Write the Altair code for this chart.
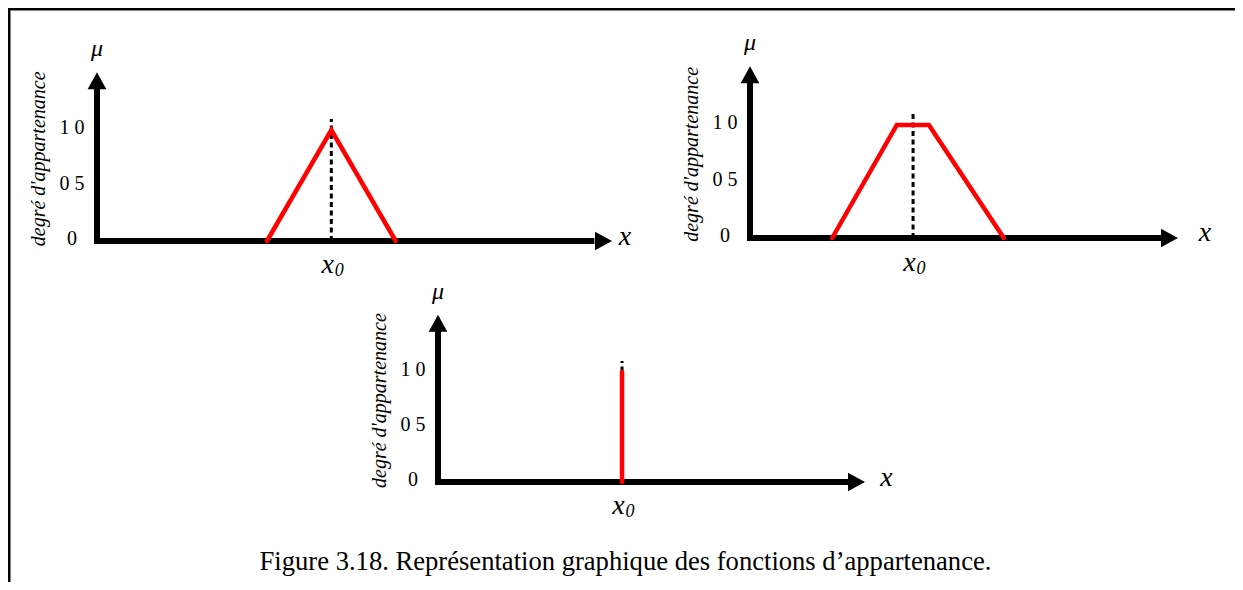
import altair as alt
import pandas as pd

# ---------------- data ----------------
# Panel 1 : triangular membership function
tri_x = [3.3, 4.55, 5.8]
tri_mu = [0.0, 1.0, 0.0]
tri_x0 = 4.55
# Panel 2 : trapezoidal membership function
trap_x = [1.92, 3.43, 4.18, 5.93]
trap_mu = [0.0, 1.0, 1.0, 0.0]
trap_x0 = 3.81
# Panel 3 : singleton
sing_x = [4.31, 4.31]
sing_mu = [0.0, 1.0]
sing_x0 = 4.31

tick_values = [0.0, 0.5, 1.0]
tick_labels = ["0", "0 5", "1 0"]
axis_len = 10.0        # length of the x axis (units)
mu_top = 1.52          # tip of the μ arrow
dash_top = 1.1         # top of the dotted line at x0
y_title = "degré d'appartenance"
caption = "Figure 3.18. Représentation graphique des fonctions d’appartenance."

# ---------------- layout ----------------
W, H = 1227, 574
FONT = "Liberation Serif"
# origin of each panel on the page, pixels per x unit / per μ unit, x-label position
layouts = [
    dict(ox=97, oy=241, ux=51.5, uy=111, xlab=10.25),
    dict(ox=750, oy=238, ux=42.8, uy=113, xlab=10.63),
    dict(ox=438, oy=482, ux=42.7, uy=110, xlab=10.5),
]

ARROW_UP = "M0,0 L0.55,1 L-0.55,1 Z"
ARROW_RIGHT = "M0,0 L-1,-0.55 L-1,0.55 Z"


def scales(L):
    px0 = L["ox"] - 8
    py0 = L["oy"] - 8
    xs = alt.Scale(domain=[-px0 / L["ux"], (W - px0) / L["ux"]], nice=False, zero=False)
    e0 = -(H - py0) / L["uy"]
    ys = alt.Scale(domain=[e0, e0 + H / L["uy"]], nice=False, zero=False)
    return xs, ys


def txt(**kw):
    base = dict(font=FONT, align="center", baseline="middle", color="black")
    base.update(kw)
    return base


def panel(mx, mmu, x0, L):
    xs, ys = scales(L)

    def X(f="x"):
        return alt.X(f"{f}:Q", scale=xs, axis=None)

    def Y(f="y"):
        return alt.Y(f"{f}:Q", scale=ys, axis=None)

    axes_df = pd.DataFrame({"x": [0.0, 0.0], "y": [0.0, 0.0],
                            "x2": [axis_len - 0.4, 0.0], "y2": [0.0, mu_top - 0.12]})
    axes = alt.Chart(axes_df).mark_rule(color="black", strokeWidth=6, strokeCap="square").encode(
        x=X(), y=Y(), x2="x2:Q", y2="y2:Q")

    up = alt.Chart(pd.DataFrame({"x": [0.0], "y": [mu_top]})).mark_point(
        shape=ARROW_UP, size=1156, filled=True, color="black", opacity=1, strokeWidth=0
    ).encode(x=X(), y=Y())
    right = alt.Chart(pd.DataFrame({"x": [axis_len], "y": [0.0]})).mark_point(
        shape=ARROW_RIGHT, size=1156, filled=True, color="black", opacity=1, strokeWidth=0
    ).encode(x=X(), y=Y())

    dash = alt.Chart(pd.DataFrame({"x": [x0], "y": [0.0], "y2": [dash_top]})).mark_rule(
        color="black", strokeWidth=3, strokeDash=[5, 3.5]
    ).encode(x=X(), y=Y(), y2="y2:Q")

    mf = alt.Chart(pd.DataFrame({"x": mx, "y": mmu, "i": list(range(len(mx)))})).mark_line(
        color="#ff0000", strokeWidth=4.5, strokeCap="round", strokeJoin="miter"
    ).encode(x=X(), y=Y(), order="i:Q")

    ticks = alt.Chart(pd.DataFrame({"x": [0.0] * 3, "y": tick_values, "t": tick_labels})).mark_text(
        **txt(fontSize=20, dx=-25, dy=-2)
    ).encode(x=X(), y=Y(), text="t:N")

    mu = alt.Chart(pd.DataFrame({"x": [0.0], "y": [1.73], "t": ["μ"]})).mark_text(
        **txt(fontSize=24, fontStyle="italic")
    ).encode(x=X(), y=Y(), text="t:N")

    ytl = alt.Chart(pd.DataFrame({"x": [0.0], "y": [0.74], "t": [y_title]})).mark_text(
        **txt(fontSize=20, fontStyle="italic", angle=270, dy=-58)
    ).encode(x=X(), y=Y(), text="t:N")

    xl = alt.Chart(pd.DataFrame({"x": [L["xlab"]], "y": [0.04], "t": ["x"]})).mark_text(
        **txt(fontSize=28, fontStyle="italic")
    ).encode(x=X(), y=Y(), text="t:N")

    x0a = alt.Chart(pd.DataFrame({"x": [x0], "y": [-0.22], "t": ["x"]})).mark_text(
        **txt(fontSize=28, fontStyle="italic", dx=-3.5)
    ).encode(x=X(), y=Y(), text="t:N")
    x0b = alt.Chart(pd.DataFrame({"x": [x0], "y": [-0.27], "t": ["0"]})).mark_text(
        **txt(fontSize=18, fontStyle="italic", dx=8)
    ).encode(x=X(), y=Y(), text="t:N")

    return alt.layer(axes, up, right, dash, mf, ticks, mu, ytl, xl, x0a, x0b)


p1 = panel(tri_x, tri_mu, tri_x0, layouts[0])
p2 = panel(trap_x, trap_mu, trap_x0, layouts[1])
p3 = panel(sing_x, sing_mu, sing_x0, layouts[2])

frame_df = pd.DataFrame({"a": [0]})
frame_left = alt.Chart(frame_df).mark_rule(color="black", strokeWidth=3).encode(
    x=alt.value(1), y=alt.value(0), y2=alt.value(H))
frame_top = alt.Chart(frame_df).mark_rule(color="black", strokeWidth=3).encode(
    x=alt.value(0), x2=alt.value(W), y=alt.value(1))

chart = alt.layer(frame_left, frame_top, p1, p2, p3).resolve_scale(
    x="independent", y="independent"
).properties(
    width=W, height=H, padding=0,
    autosize=alt.AutoSizeParams(type="none"),
    title=alt.TitleParams(
        text=caption, orient="bottom", anchor="middle", frame="group", offset=-14,
        baseline="alphabetic", font=FONT, fontSize=26.6, fontWeight="normal",
        color="black", dx=4,
    ),
).configure(font=FONT).configure_text(font=FONT).configure_view(stroke=None)

chart.save("out.html", embed_options={"renderer": "svg", "actions": False})
